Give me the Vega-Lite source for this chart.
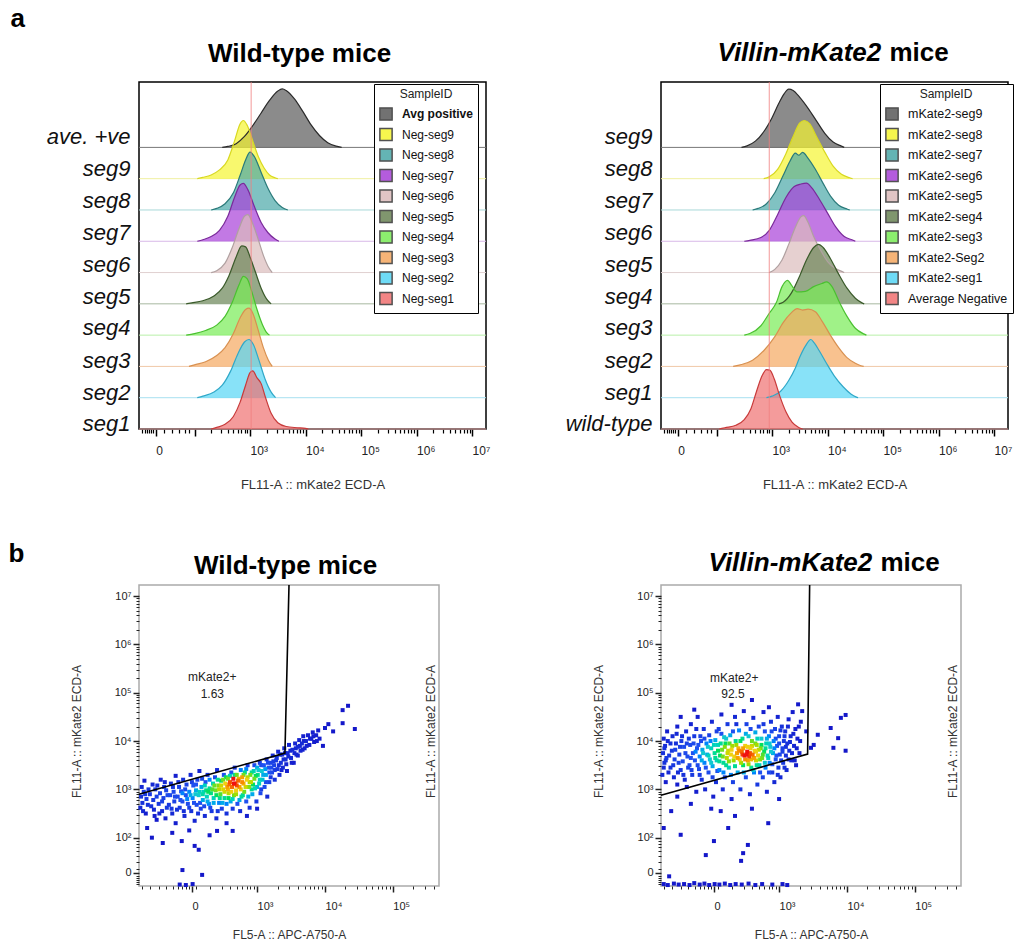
{
"$schema": "https://vega.github.io/schema/vega-lite/v6.json",
"background": "#ffffff",
"padding": {"left": 7, "top": 4, "right": 0, "bottom": 0},
"config": {"font": "Liberation Sans", "axis": {"labelFont": "Liberation Sans", "titleFont": "Liberation Sans"}, "legend": {"labelFont": "Liberation Sans", "titleFont": "Liberation Sans"}},
"datasets": {
"wtO": [{"s":"Avg positive","i":9},{"s":"Neg-seg9","i":8},{"s":"Neg-seg8","i":7},{"s":"Neg-seg7","i":6},{"s":"Neg-seg6","i":5},{"s":"Neg-seg5","i":4},{"s":"Neg-seg4","i":3},{"s":"Neg-seg3","i":2},{"s":"Neg-seg2","i":1},{"s":"Neg-seg1","i":0}],
"vO": [{"s":"mKate2-seg9","i":9},{"s":"mKate2-seg8","i":8},{"s":"mKate2-seg7","i":7},{"s":"mKate2-seg6","i":6},{"s":"mKate2-seg5","i":5},{"s":"mKate2-seg4","i":4},{"s":"mKate2-seg3","i":3},{"s":"mKate2-Seg2","i":2},{"s":"mKate2-seg1","i":1},{"s":"Average Negative","i":0}],
"wtR": [
{"s":"Avg positive","x":2.5,"d":0},{"s":"Avg positive","x":2.6,"d":0.03},{"s":"Avg positive","x":2.75,"d":0.12},{"s":"Avg positive","x":2.9,"d":0.35},{"s":"Avg positive","x":3.05,"d":0.7},{"s":"Avg positive","x":3.2,"d":1.1},{"s":"Avg positive","x":3.35,"d":1.5},{"s":"Avg positive","x":3.5,"d":1.8},{"s":"Avg positive","x":3.58,"d":1.87},{"s":"Avg positive","x":3.65,"d":1.82},{"s":"Avg positive","x":3.8,"d":1.55},{"s":"Avg positive","x":3.95,"d":1.15},{"s":"Avg positive","x":4.1,"d":0.72},{"s":"Avg positive","x":4.25,"d":0.38},{"s":"Avg positive","x":4.4,"d":0.15},{"s":"Avg positive","x":4.55,"d":0.04},{"s":"Avg positive","x":4.65,"d":0},
{"s":"Neg-seg9","x":2.05,"d":0},{"s":"Neg-seg9","x":2.15,"d":0.04},{"s":"Neg-seg9","x":2.3,"d":0.12},{"s":"Neg-seg9","x":2.45,"d":0.28},{"s":"Neg-seg9","x":2.6,"d":0.6},{"s":"Neg-seg9","x":2.72,"d":1.2},{"s":"Neg-seg9","x":2.82,"d":1.75},{"s":"Neg-seg9","x":2.88,"d":1.86},{"s":"Neg-seg9","x":2.95,"d":1.7},{"s":"Neg-seg9","x":3.05,"d":1.2},{"s":"Neg-seg9","x":3.15,"d":0.7},{"s":"Neg-seg9","x":3.25,"d":0.35},{"s":"Neg-seg9","x":3.35,"d":0.12},{"s":"Neg-seg9","x":3.45,"d":0.03},{"s":"Neg-seg9","x":3.5,"d":0},
{"s":"Neg-seg8","x":2.3,"d":0},{"s":"Neg-seg8","x":2.4,"d":0.05},{"s":"Neg-seg8","x":2.55,"d":0.2},{"s":"Neg-seg8","x":2.7,"d":0.55},{"s":"Neg-seg8","x":2.82,"d":1.1},{"s":"Neg-seg8","x":2.92,"d":1.6},{"s":"Neg-seg8","x":3.0,"d":1.85},{"s":"Neg-seg8","x":3.08,"d":1.7},{"s":"Neg-seg8","x":3.2,"d":1.2},{"s":"Neg-seg8","x":3.32,"d":0.7},{"s":"Neg-seg8","x":3.45,"d":0.3},{"s":"Neg-seg8","x":3.58,"d":0.08},{"s":"Neg-seg8","x":3.68,"d":0},
{"s":"Neg-seg7","x":2.05,"d":0},{"s":"Neg-seg7","x":2.15,"d":0.05},{"s":"Neg-seg7","x":2.3,"d":0.15},{"s":"Neg-seg7","x":2.45,"d":0.35},{"s":"Neg-seg7","x":2.6,"d":0.8},{"s":"Neg-seg7","x":2.72,"d":1.4},{"s":"Neg-seg7","x":2.82,"d":1.8},{"s":"Neg-seg7","x":2.88,"d":1.85},{"s":"Neg-seg7","x":2.96,"d":1.65},{"s":"Neg-seg7","x":3.08,"d":1.1},{"s":"Neg-seg7","x":3.2,"d":0.6},{"s":"Neg-seg7","x":3.32,"d":0.28},{"s":"Neg-seg7","x":3.45,"d":0.07},{"s":"Neg-seg7","x":3.52,"d":0},
{"s":"Neg-seg6","x":2.3,"d":0},{"s":"Neg-seg6","x":2.4,"d":0.06},{"s":"Neg-seg6","x":2.55,"d":0.3},{"s":"Neg-seg6","x":2.68,"d":0.8},{"s":"Neg-seg6","x":2.8,"d":1.4},{"s":"Neg-seg6","x":2.9,"d":1.8},{"s":"Neg-seg6","x":2.96,"d":1.85},{"s":"Neg-seg6","x":3.04,"d":1.6},{"s":"Neg-seg6","x":3.14,"d":1.1},{"s":"Neg-seg6","x":3.24,"d":0.55},{"s":"Neg-seg6","x":3.33,"d":0.18},{"s":"Neg-seg6","x":3.4,"d":0},
{"s":"Neg-seg5","x":1.85,"d":0},{"s":"Neg-seg5","x":1.95,"d":0.03},{"s":"Neg-seg5","x":2.15,"d":0.1},{"s":"Neg-seg5","x":2.35,"d":0.25},{"s":"Neg-seg5","x":2.5,"d":0.5},{"s":"Neg-seg5","x":2.62,"d":0.9},{"s":"Neg-seg5","x":2.75,"d":1.5},{"s":"Neg-seg5","x":2.85,"d":1.85},{"s":"Neg-seg5","x":2.92,"d":1.82},{"s":"Neg-seg5","x":3.0,"d":1.5},{"s":"Neg-seg5","x":3.1,"d":1.0},{"s":"Neg-seg5","x":3.2,"d":0.5},{"s":"Neg-seg5","x":3.3,"d":0.15},{"s":"Neg-seg5","x":3.38,"d":0},
{"s":"Neg-seg4","x":1.85,"d":0},{"s":"Neg-seg4","x":2.0,"d":0.05},{"s":"Neg-seg4","x":2.2,"d":0.15},{"s":"Neg-seg4","x":2.4,"d":0.32},{"s":"Neg-seg4","x":2.55,"d":0.6},{"s":"Neg-seg4","x":2.68,"d":1.05},{"s":"Neg-seg4","x":2.8,"d":1.6},{"s":"Neg-seg4","x":2.88,"d":1.88},{"s":"Neg-seg4","x":2.95,"d":1.8},{"s":"Neg-seg4","x":3.03,"d":1.4},{"s":"Neg-seg4","x":3.12,"d":0.85},{"s":"Neg-seg4","x":3.22,"d":0.35},{"s":"Neg-seg4","x":3.3,"d":0.08},{"s":"Neg-seg4","x":3.35,"d":0},
{"s":"Neg-seg3","x":1.9,"d":0},{"s":"Neg-seg3","x":2.0,"d":0.05},{"s":"Neg-seg3","x":2.2,"d":0.15},{"s":"Neg-seg3","x":2.4,"d":0.35},{"s":"Neg-seg3","x":2.55,"d":0.6},{"s":"Neg-seg3","x":2.7,"d":1.05},{"s":"Neg-seg3","x":2.82,"d":1.55},{"s":"Neg-seg3","x":2.92,"d":1.82},{"s":"Neg-seg3","x":2.98,"d":1.86},{"s":"Neg-seg3","x":3.05,"d":1.7},{"s":"Neg-seg3","x":3.14,"d":1.2},{"s":"Neg-seg3","x":3.24,"d":0.6},{"s":"Neg-seg3","x":3.33,"d":0.2},{"s":"Neg-seg3","x":3.4,"d":0},
{"s":"Neg-seg2","x":2.05,"d":0},{"s":"Neg-seg2","x":2.15,"d":0.05},{"s":"Neg-seg2","x":2.35,"d":0.18},{"s":"Neg-seg2","x":2.5,"d":0.4},{"s":"Neg-seg2","x":2.65,"d":0.85},{"s":"Neg-seg2","x":2.78,"d":1.4},{"s":"Neg-seg2","x":2.9,"d":1.78},{"s":"Neg-seg2","x":2.98,"d":1.86},{"s":"Neg-seg2","x":3.06,"d":1.7},{"s":"Neg-seg2","x":3.16,"d":1.2},{"s":"Neg-seg2","x":3.27,"d":0.6},{"s":"Neg-seg2","x":3.38,"d":0.18},{"s":"Neg-seg2","x":3.46,"d":0},
{"s":"Neg-seg1","x":2.3,"d":0},{"s":"Neg-seg1","x":2.4,"d":0.05},{"s":"Neg-seg1","x":2.55,"d":0.15},{"s":"Neg-seg1","x":2.7,"d":0.4},{"s":"Neg-seg1","x":2.82,"d":0.85},{"s":"Neg-seg1","x":2.92,"d":1.4},{"s":"Neg-seg1","x":3.0,"d":1.8},{"s":"Neg-seg1","x":3.05,"d":1.86},{"s":"Neg-seg1","x":3.12,"d":1.65},{"s":"Neg-seg1","x":3.2,"d":1.45},{"s":"Neg-seg1","x":3.28,"d":1.0},{"s":"Neg-seg1","x":3.38,"d":0.5},{"s":"Neg-seg1","x":3.5,"d":0.2},{"s":"Neg-seg1","x":3.65,"d":0.08},{"s":"Neg-seg1","x":3.85,"d":0.04},{"s":"Neg-seg1","x":4.0,"d":0.02},{"s":"Neg-seg1","x":4.05,"d":0}
],
"vR": [
{"s":"mKate2-seg9","x":2.45,"d":0},{"s":"mKate2-seg9","x":2.55,"d":0.05},{"s":"mKate2-seg9","x":2.7,"d":0.2},{"s":"mKate2-seg9","x":2.85,"d":0.5},{"s":"mKate2-seg9","x":3.0,"d":0.95},{"s":"mKate2-seg9","x":3.12,"d":1.4},{"s":"mKate2-seg9","x":3.22,"d":1.72},{"s":"mKate2-seg9","x":3.3,"d":1.86},{"s":"mKate2-seg9","x":3.38,"d":1.82},{"s":"mKate2-seg9","x":3.5,"d":1.6},{"s":"mKate2-seg9","x":3.65,"d":1.25},{"s":"mKate2-seg9","x":3.8,"d":0.85},{"s":"mKate2-seg9","x":3.95,"d":0.45},{"s":"mKate2-seg9","x":4.1,"d":0.17},{"s":"mKate2-seg9","x":4.25,"d":0.04},{"s":"mKate2-seg9","x":4.3,"d":0},
{"s":"mKate2-seg8","x":2.85,"d":0},{"s":"mKate2-seg8","x":2.95,"d":0.06},{"s":"mKate2-seg8","x":3.1,"d":0.3},{"s":"mKate2-seg8","x":3.25,"d":0.8},{"s":"mKate2-seg8","x":3.38,"d":1.35},{"s":"mKate2-seg8","x":3.5,"d":1.78},{"s":"mKate2-seg8","x":3.58,"d":1.86},{"s":"mKate2-seg8","x":3.68,"d":1.75},{"s":"mKate2-seg8","x":3.8,"d":1.35},{"s":"mKate2-seg8","x":3.95,"d":0.85},{"s":"mKate2-seg8","x":4.1,"d":0.4},{"s":"mKate2-seg8","x":4.25,"d":0.14},{"s":"mKate2-seg8","x":4.4,"d":0.03},{"s":"mKate2-seg8","x":4.45,"d":0},
{"s":"mKate2-seg7","x":2.65,"d":0},{"s":"mKate2-seg7","x":2.75,"d":0.05},{"s":"mKate2-seg7","x":2.9,"d":0.2},{"s":"mKate2-seg7","x":3.05,"d":0.55},{"s":"mKate2-seg7","x":3.2,"d":1.1},{"s":"mKate2-seg7","x":3.32,"d":1.55},{"s":"mKate2-seg7","x":3.42,"d":1.82},{"s":"mKate2-seg7","x":3.48,"d":1.75},{"s":"mKate2-seg7","x":3.55,"d":1.84},{"s":"mKate2-seg7","x":3.65,"d":1.65},{"s":"mKate2-seg7","x":3.78,"d":1.3},{"s":"mKate2-seg7","x":3.92,"d":0.85},{"s":"mKate2-seg7","x":4.05,"d":0.45},{"s":"mKate2-seg7","x":4.2,"d":0.15},{"s":"mKate2-seg7","x":4.35,"d":0.03},{"s":"mKate2-seg7","x":4.4,"d":0},
{"s":"mKate2-seg6","x":2.5,"d":0},{"s":"mKate2-seg6","x":2.6,"d":0.03},{"s":"mKate2-seg6","x":2.8,"d":0.12},{"s":"mKate2-seg6","x":2.95,"d":0.35},{"s":"mKate2-seg6","x":3.1,"d":0.85},{"s":"mKate2-seg6","x":3.25,"d":1.4},{"s":"mKate2-seg6","x":3.4,"d":1.75},{"s":"mKate2-seg6","x":3.52,"d":1.83},{"s":"mKate2-seg6","x":3.62,"d":1.86},{"s":"mKate2-seg6","x":3.72,"d":1.7},{"s":"mKate2-seg6","x":3.85,"d":1.35},{"s":"mKate2-seg6","x":4.0,"d":0.9},{"s":"mKate2-seg6","x":4.15,"d":0.45},{"s":"mKate2-seg6","x":4.3,"d":0.15},{"s":"mKate2-seg6","x":4.45,"d":0.04},{"s":"mKate2-seg6","x":4.5,"d":0},
{"s":"mKate2-seg5","x":2.95,"d":0},{"s":"mKate2-seg5","x":3.05,"d":0.1},{"s":"mKate2-seg5","x":3.18,"d":0.4},{"s":"mKate2-seg5","x":3.3,"d":0.9},{"s":"mKate2-seg5","x":3.42,"d":1.45},{"s":"mKate2-seg5","x":3.52,"d":1.78},{"s":"mKate2-seg5","x":3.57,"d":1.82},{"s":"mKate2-seg5","x":3.65,"d":1.6},{"s":"mKate2-seg5","x":3.75,"d":1.15},{"s":"mKate2-seg5","x":3.88,"d":0.7},{"s":"mKate2-seg5","x":4.0,"d":0.35},{"s":"mKate2-seg5","x":4.15,"d":0.12},{"s":"mKate2-seg5","x":4.28,"d":0.02},{"s":"mKate2-seg5","x":4.3,"d":0},
{"s":"mKate2-seg4","x":3.12,"d":0},{"s":"mKate2-seg4","x":3.2,"d":0.05},{"s":"mKate2-seg4","x":3.35,"d":0.35},{"s":"mKate2-seg4","x":3.5,"d":0.9},{"s":"mKate2-seg4","x":3.62,"d":1.4},{"s":"mKate2-seg4","x":3.75,"d":1.8},{"s":"mKate2-seg4","x":3.84,"d":1.9},{"s":"mKate2-seg4","x":3.92,"d":1.8},{"s":"mKate2-seg4","x":4.05,"d":1.45},{"s":"mKate2-seg4","x":4.2,"d":0.95},{"s":"mKate2-seg4","x":4.35,"d":0.5},{"s":"mKate2-seg4","x":4.5,"d":0.18},{"s":"mKate2-seg4","x":4.62,"d":0.03},{"s":"mKate2-seg4","x":4.66,"d":0},
{"s":"mKate2-seg3","x":2.5,"d":0},{"s":"mKate2-seg3","x":2.6,"d":0.05},{"s":"mKate2-seg3","x":2.8,"d":0.3},{"s":"mKate2-seg3","x":2.95,"d":0.7},{"s":"mKate2-seg3","x":3.08,"d":1.05},{"s":"mKate2-seg3","x":3.18,"d":1.55},{"s":"mKate2-seg3","x":3.28,"d":1.75},{"s":"mKate2-seg3","x":3.35,"d":1.6},{"s":"mKate2-seg3","x":3.45,"d":1.38},{"s":"mKate2-seg3","x":3.6,"d":1.4},{"s":"mKate2-seg3","x":3.75,"d":1.55},{"s":"mKate2-seg3","x":3.9,"d":1.65},{"s":"mKate2-seg3","x":3.98,"d":1.7},{"s":"mKate2-seg3","x":4.08,"d":1.55},{"s":"mKate2-seg3","x":4.2,"d":1.1},{"s":"mKate2-seg3","x":4.35,"d":0.6},{"s":"mKate2-seg3","x":4.5,"d":0.22},{"s":"mKate2-seg3","x":4.65,"d":0.04},{"s":"mKate2-seg3","x":4.7,"d":0},
{"s":"mKate2-Seg2","x":2.3,"d":0},{"s":"mKate2-Seg2","x":2.45,"d":0.06},{"s":"mKate2-Seg2","x":2.65,"d":0.2},{"s":"mKate2-Seg2","x":2.85,"d":0.5},{"s":"mKate2-Seg2","x":3.05,"d":0.95},{"s":"mKate2-Seg2","x":3.2,"d":1.4},{"s":"mKate2-Seg2","x":3.35,"d":1.72},{"s":"mKate2-Seg2","x":3.45,"d":1.85},{"s":"mKate2-Seg2","x":3.55,"d":1.8},{"s":"mKate2-Seg2","x":3.65,"d":1.83},{"s":"mKate2-Seg2","x":3.78,"d":1.75},{"s":"mKate2-Seg2","x":3.9,"d":1.45},{"s":"mKate2-Seg2","x":4.05,"d":1.0},{"s":"mKate2-Seg2","x":4.2,"d":0.6},{"s":"mKate2-Seg2","x":4.35,"d":0.28},{"s":"mKate2-Seg2","x":4.5,"d":0.1},{"s":"mKate2-Seg2","x":4.6,"d":0.02},{"s":"mKate2-Seg2","x":4.65,"d":0},
{"s":"mKate2-seg1","x":2.9,"d":0},{"s":"mKate2-seg1","x":3.0,"d":0.05},{"s":"mKate2-seg1","x":3.15,"d":0.2},{"s":"mKate2-seg1","x":3.3,"d":0.55},{"s":"mKate2-seg1","x":3.42,"d":0.95},{"s":"mKate2-seg1","x":3.5,"d":1.3},{"s":"mKate2-seg1","x":3.6,"d":1.65},{"s":"mKate2-seg1","x":3.7,"d":1.86},{"s":"mKate2-seg1","x":3.76,"d":1.75},{"s":"mKate2-seg1","x":3.85,"d":1.5},{"s":"mKate2-seg1","x":3.98,"d":1.1},{"s":"mKate2-seg1","x":4.12,"d":0.7},{"s":"mKate2-seg1","x":4.28,"d":0.35},{"s":"mKate2-seg1","x":4.42,"d":0.12},{"s":"mKate2-seg1","x":4.52,"d":0.02},{"s":"mKate2-seg1","x":4.55,"d":0},
{"s":"Average Negative","x":2.05,"d":0},{"s":"Average Negative","x":2.15,"d":0.04},{"s":"Average Negative","x":2.35,"d":0.12},{"s":"Average Negative","x":2.5,"d":0.3},{"s":"Average Negative","x":2.62,"d":0.65},{"s":"Average Negative","x":2.72,"d":1.2},{"s":"Average Negative","x":2.82,"d":1.7},{"s":"Average Negative","x":2.9,"d":1.9},{"s":"Average Negative","x":2.96,"d":1.88},{"s":"Average Negative","x":3.04,"d":1.6},{"s":"Average Negative","x":3.14,"d":1.05},{"s":"Average Negative","x":3.25,"d":0.55},{"s":"Average Negative","x":3.36,"d":0.22},{"s":"Average Negative","x":3.48,"d":0.05},{"s":"Average Negative","x":3.55,"d":0}
],
"wtG": [{"x":1.26,"y":2.9,"o":1},{"x":3.41,"y":3.75,"o":2},{"x":3.47,"y":7.23,"o":3}],
"vG": [{"x":1.26,"y":2.88,"o":1},{"x":3.42,"y":3.73,"o":2},{"x":3.45,"y":7.23,"o":3}],
"wtP": [
{"x":1.28,"y":2.62,"d":0.1},{"x":1.29,"y":2.85,"d":0.15},{"x":1.3,"y":3.05,"d":0.1},{"x":1.31,"y":2.72,"d":0.15},{"x":1.33,"y":2.95,"d":0.2},{"x":1.34,"y":3.18,"d":0.05},{"x":1.36,"y":2.5,"d":0.05},{"x":1.37,"y":2.8,"d":0.2},
{"x":1.42,"y":2.9,"d":0.2},{"x":1.44,"y":2.65,"d":0.15},{"x":1.46,"y":3.1,"d":0.1},{"x":1.47,"y":2.78,"d":0.2},{"x":1.49,"y":2.45,"d":0.05},{"x":1.5,"y":3.0,"d":0.2},
{"x":1.55,"y":2.7,"d":0.2},{"x":1.57,"y":2.92,"d":0.25},{"x":1.58,"y":3.2,"d":0.08},{"x":1.6,"y":2.55,"d":0.1},{"x":1.62,"y":2.82,"d":0.25},{"x":1.63,"y":3.05,"d":0.2},{"x":1.65,"y":2.4,"d":0.05},{"x":1.66,"y":2.98,"d":0.25},
{"x":1.7,"y":2.68,"d":0.2},{"x":1.72,"y":2.88,"d":0.3},{"x":1.73,"y":3.12,"d":0.15},{"x":1.75,"y":2.5,"d":0.1},{"x":1.77,"y":2.95,"d":0.3},{"x":1.78,"y":2.75,"d":0.25},{"x":1.8,"y":3.28,"d":0.05},{"x":1.8,"y":2.3,"d":0.05},
{"x":1.83,"y":2.85,"d":0.3},{"x":1.85,"y":3.05,"d":0.25},{"x":1.86,"y":2.62,"d":0.2},{"x":1.88,"y":2.96,"d":0.35},{"x":1.9,"y":2.75,"d":0.3},{"x":1.91,"y":3.2,"d":0.15},{"x":1.93,"y":2.45,"d":0.1},{"x":1.95,"y":2.88,"d":0.35},{"x":1.96,"y":3.1,"d":0.25},
{"x":1.98,"y":2.7,"d":0.3},{"x":2.0,"y":2.95,"d":0.4},{"x":2.02,"y":3.3,"d":0.1},{"x":2.03,"y":2.55,"d":0.15},{"x":2.05,"y":2.82,"d":0.4},{"x":2.06,"y":3.08,"d":0.35},{"x":2.08,"y":2.35,"d":0.08},{"x":2.1,"y":2.98,"d":0.45},{"x":2.11,"y":2.68,"d":0.3},{"x":2.12,"y":3.2,"d":0.25},
{"x":2.14,"y":2.88,"d":0.5},{"x":2.15,"y":3.38,"d":0.08},{"x":2.17,"y":2.6,"d":0.25},{"x":2.18,"y":3.05,"d":0.45},{"x":2.2,"y":2.78,"d":0.45},{"x":2.21,"y":2.95,"d":0.55},{"x":2.23,"y":2.45,"d":0.12},{"x":2.24,"y":3.15,"d":0.35},{"x":2.26,"y":2.85,"d":0.55},{"x":2.27,"y":3.3,"d":0.15},
{"x":2.29,"y":2.7,"d":0.4},{"x":2.3,"y":3.02,"d":0.6},{"x":2.32,"y":2.92,"d":0.62},{"x":2.33,"y":2.55,"d":0.2},{"x":2.35,"y":3.12,"d":0.55},{"x":2.36,"y":2.82,"d":0.55},{"x":2.38,"y":3.25,"d":0.3},{"x":2.39,"y":2.98,"d":0.7},{"x":2.4,"y":2.4,"d":0.1},{"x":2.41,"y":3.4,"d":0.12},
{"x":2.43,"y":3.08,"d":0.72},{"x":2.44,"y":2.72,"d":0.4},{"x":2.46,"y":2.9,"d":0.68},{"x":2.47,"y":3.18,"d":0.65},{"x":2.48,"y":2.6,"d":0.25},{"x":2.5,"y":3.0,"d":0.82},{"x":2.51,"y":3.3,"d":0.35},{"x":2.52,"y":2.82,"d":0.6},{"x":2.53,"y":3.12,"d":0.85},{"x":2.55,"y":2.5,"d":0.15},
{"x":2.56,"y":3.05,"d":0.9},{"x":2.57,"y":3.22,"d":0.7},{"x":2.58,"y":2.92,"d":0.78},{"x":2.6,"y":3.15,"d":0.97},{"x":2.61,"y":2.75,"d":0.45},{"x":2.62,"y":3.35,"d":0.35},{"x":2.63,"y":3.05,"d":0.95},{"x":2.64,"y":2.6,"d":0.2},{"x":2.65,"y":3.22,"d":1.0},{"x":2.66,"y":2.88,"d":0.7},{"x":2.67,"y":3.45,"d":0.15},
{"x":2.68,"y":3.12,"d":0.98},{"x":2.69,"y":2.98,"d":0.85},{"x":2.7,"y":3.3,"d":0.7},{"x":2.71,"y":2.7,"d":0.35},{"x":2.72,"y":3.18,"d":0.95},{"x":2.74,"y":3.05,"d":0.9},{"x":2.75,"y":2.55,"d":0.12},{"x":2.76,"y":3.4,"d":0.4},{"x":2.77,"y":2.85,"d":0.6},{"x":2.78,"y":3.25,"d":0.9},
{"x":2.8,"y":3.12,"d":0.88},{"x":2.81,"y":2.95,"d":0.7},{"x":2.82,"y":3.35,"d":0.6},{"x":2.84,"y":2.75,"d":0.35},{"x":2.85,"y":3.2,"d":0.85},{"x":2.86,"y":3.5,"d":0.2},{"x":2.88,"y":3.05,"d":0.72},{"x":2.89,"y":2.62,"d":0.15},{"x":2.9,"y":3.3,"d":0.7},{"x":2.91,"y":3.15,"d":0.78},
{"x":2.93,"y":2.9,"d":0.45},{"x":2.95,"y":3.38,"d":0.55},{"x":2.96,"y":3.22,"d":0.7},{"x":2.97,"y":3.02,"d":0.55},{"x":2.99,"y":2.75,"d":0.2},{"x":3.0,"y":3.45,"d":0.45},{"x":3.01,"y":3.3,"d":0.6},{"x":3.03,"y":3.12,"d":0.55},{"x":3.04,"y":3.55,"d":0.2},{"x":3.05,"y":2.92,"d":0.3},
{"x":3.07,"y":3.38,"d":0.5},{"x":3.08,"y":3.2,"d":0.48},{"x":3.1,"y":3.5,"d":0.35},{"x":3.11,"y":3.05,"d":0.3},{"x":3.13,"y":3.3,"d":0.45},{"x":3.14,"y":3.62,"d":0.15},{"x":3.15,"y":2.85,"d":0.1},{"x":3.17,"y":3.45,"d":0.35},{"x":3.18,"y":3.15,"d":0.25},{"x":3.2,"y":3.55,"d":0.25},
{"x":3.22,"y":3.35,"d":0.3},{"x":3.23,"y":3.7,"d":0.12},{"x":3.25,"y":3.5,"d":0.25},{"x":3.26,"y":3.2,"d":0.15},{"x":3.28,"y":3.6,"d":0.2},{"x":3.3,"y":3.42,"d":0.2},{"x":3.31,"y":3.78,"d":0.08},{"x":3.33,"y":3.3,"d":0.1},
{"x":3.35,"y":3.55,"d":0.15},{"x":3.37,"y":3.72,"d":0.12},{"x":3.38,"y":3.45,"d":0.1},{"x":3.4,"y":3.85,"d":0.1},{"x":3.42,"y":3.62,"d":0.12},{"x":3.44,"y":3.38,"d":0.05},{"x":3.45,"y":3.75,"d":0.1},{"x":3.47,"y":3.92,"d":0.08},
{"x":3.5,"y":3.65,"d":0.1},{"x":3.52,"y":3.82,"d":0.1},{"x":3.54,"y":3.55,"d":0.05},{"x":3.56,"y":3.95,"d":0.08},{"x":3.58,"y":3.72,"d":0.08},{"x":3.6,"y":3.88,"d":0.1},{"x":3.62,"y":4.02,"d":0.06},
{"x":3.64,"y":3.8,"d":0.08},{"x":3.66,"y":3.95,"d":0.1},{"x":3.68,"y":4.1,"d":0.05},{"x":3.7,"y":3.85,"d":0.06},{"x":3.72,"y":4.0,"d":0.08},{"x":3.75,"y":4.12,"d":0.06},{"x":3.77,"y":3.92,"d":0.05},
{"x":3.8,"y":4.05,"d":0.06},{"x":3.82,"y":4.18,"d":0.05},{"x":3.84,"y":3.98,"d":0.04},{"x":3.87,"y":4.12,"d":0.05},{"x":3.9,"y":4.22,"d":0.04},{"x":3.92,"y":4.05,"d":0.04},
{"x":3.97,"y":3.9,"d":0.02},{"x":4.0,"y":4.27,"d":0.03},{"x":4.05,"y":4.35,"d":0.02},{"x":4.26,"y":4.64,"d":0.01},{"x":4.34,"y":4.73,"d":0.01},{"x":4.44,"y":4.25,"d":0.01},{"x":4.26,"y":4.37,"d":0.01},{"x":4.12,"y":4.2,"d":0.02},
{"x":1.38,"y":2.2,"d":0.02},{"x":1.52,"y":2.37,"d":0.03},{"x":1.61,"y":1.89,"d":0.01},{"x":1.89,"y":1.93,"d":0.01},{"x":2.08,"y":1.83,"d":0.01},{"x":2.14,"y":1.75,"d":0.01},{"x":1.9,"y":1.33,"d":0.01},{"x":2.19,"y":1.23,"d":0.01},{"x":2.41,"y":2.14,"d":0.02},{"x":2.64,"y":2.14,"d":0.02},{"x":1.75,"y":2.1,"d":0.02},{"x":2.3,"y":2.05,"d":0.02},{"x":2.55,"y":2.3,"d":0.05},{"x":2.0,"y":2.15,"d":0.03},{"x":2.85,"y":2.45,"d":0.05},{"x":3.0,"y":2.6,"d":0.05},{"x":1.45,"y":2.0,"d":0.02},
{"x":1.86,"y":1.03,"d":0.02},{"x":1.95,"y":1.02,"d":0.02},{"x":2.05,"y":1.04,"d":0.02},
{"x":1.32,"y":2.55,"d":0.1},{"x":1.35,"y":2.9,"d":0.2},{"x":1.39,"y":2.68,"d":0.15},{"x":1.4,"y":3.0,"d":0.15},
{"x":1.48,"y":2.58,"d":0.1},{"x":1.52,"y":2.85,"d":0.25},{"x":1.53,"y":3.08,"d":0.12},{"x":1.56,"y":2.5,"d":0.08},
{"x":1.6,"y":2.75,"d":0.25},{"x":1.64,"y":3.15,"d":0.1},{"x":1.67,"y":2.62,"d":0.2},{"x":1.68,"y":2.88,"d":0.3},
{"x":1.74,"y":2.6,"d":0.2},{"x":1.76,"y":3.05,"d":0.2},{"x":1.79,"y":2.85,"d":0.3},{"x":1.82,"y":2.58,"d":0.15},{"x":1.84,"y":3.15,"d":0.15},
{"x":1.87,"y":2.78,"d":0.35},{"x":1.9,"y":2.92,"d":0.4},{"x":1.92,"y":2.55,"d":0.15},{"x":1.94,"y":3.0,"d":0.3},{"x":1.97,"y":2.8,"d":0.4},
{"x":2.0,"y":2.62,"d":0.25},{"x":2.02,"y":2.88,"d":0.45},{"x":2.04,"y":3.15,"d":0.25},{"x":2.07,"y":2.72,"d":0.35},{"x":2.09,"y":2.9,"d":0.5},{"x":2.1,"y":3.1,"d":0.35},{"x":2.13,"y":2.5,"d":0.15},
{"x":2.15,"y":2.95,"d":0.55},{"x":2.16,"y":2.72,"d":0.35},{"x":2.19,"y":3.22,"d":0.3},{"x":2.2,"y":2.9,"d":0.58},{"x":2.22,"y":2.65,"d":0.3},{"x":2.23,"y":3.08,"d":0.55},{"x":2.25,"y":2.98,"d":0.62},{"x":2.27,"y":2.75,"d":0.45},
{"x":2.28,"y":2.95,"d":0.65},{"x":2.3,"y":3.2,"d":0.4},{"x":2.31,"y":2.62,"d":0.3},{"x":2.34,"y":3.0,"d":0.68},{"x":2.36,"y":2.72,"d":0.45},{"x":2.37,"y":3.08,"d":0.7},{"x":2.4,"y":2.88,"d":0.65},{"x":2.42,"y":3.2,"d":0.6},{"x":2.42,"y":2.55,"d":0.2},
{"x":2.44,"y":3.0,"d":0.78},{"x":2.45,"y":2.82,"d":0.6},{"x":2.47,"y":3.08,"d":0.8},{"x":2.49,"y":2.72,"d":0.45},{"x":2.5,"y":3.2,"d":0.7},{"x":2.52,"y":2.95,"d":0.8},{"x":2.54,"y":3.25,"d":0.65},{"x":2.55,"y":2.7,"d":0.4},{"x":2.57,"y":3.0,"d":0.88},{"x":2.58,"y":2.82,"d":0.65},
{"x":2.59,"y":3.1,"d":0.95},{"x":2.6,"y":3.28,"d":0.55},{"x":2.62,"y":2.95,"d":0.85},{"x":2.64,"y":2.8,"d":0.55},{"x":2.66,"y":3.12,"d":1.0},{"x":2.67,"y":3.3,"d":0.6},{"x":2.69,"y":2.9,"d":0.75},{"x":2.7,"y":3.08,"d":0.97},{"x":2.73,"y":3.22,"d":0.88},{"x":2.74,"y":2.78,"d":0.45},{"x":2.76,"y":3.0,"d":0.85},
{"x":2.78,"y":3.15,"d":0.92},{"x":2.79,"y":2.88,"d":0.6},{"x":2.8,"y":3.3,"d":0.7},{"x":2.83,"y":3.05,"d":0.8},{"x":2.84,"y":3.42,"d":0.4},{"x":2.86,"y":3.25,"d":0.78},{"x":2.87,"y":2.85,"d":0.45},{"x":2.89,"y":3.15,"d":0.75},{"x":2.92,"y":3.35,"d":0.6},{"x":2.92,"y":3.0,"d":0.6},
{"x":2.94,"y":3.1,"d":0.65},{"x":2.96,"y":3.5,"d":0.3},{"x":2.98,"y":3.28,"d":0.65},{"x":3.0,"y":3.05,"d":0.45},{"x":3.02,"y":3.4,"d":0.5},{"x":3.04,"y":3.2,"d":0.55},{"x":3.06,"y":3.0,"d":0.25},{"x":3.06,"y":3.5,"d":0.3},
{"x":3.09,"y":3.3,"d":0.45},{"x":3.12,"y":3.42,"d":0.42},{"x":3.13,"y":3.15,"d":0.3},{"x":3.16,"y":3.55,"d":0.3},{"x":3.18,"y":3.35,"d":0.35},{"x":3.2,"y":3.25,"d":0.2},{"x":3.21,"y":3.45,"d":0.3},
{"x":3.24,"y":3.58,"d":0.22},{"x":3.26,"y":3.4,"d":0.2},{"x":3.29,"y":3.65,"d":0.18},{"x":3.32,"y":3.5,"d":0.15},{"x":3.34,"y":3.72,"d":0.12},{"x":3.36,"y":3.4,"d":0.08},
{"x":3.39,"y":3.62,"d":0.12},{"x":3.41,"y":3.75,"d":0.1},{"x":3.43,"y":3.52,"d":0.08},{"x":3.46,"y":3.68,"d":0.1},{"x":3.49,"y":3.8,"d":0.08},{"x":3.51,"y":3.55,"d":0.05},
{"x":3.55,"y":3.75,"d":0.08},{"x":3.57,"y":3.85,"d":0.08},{"x":3.6,"y":3.7,"d":0.06},{"x":3.63,"y":3.9,"d":0.08},{"x":3.67,"y":3.82,"d":0.06},{"x":3.69,"y":4.0,"d":0.06},{"x":3.73,"y":3.9,"d":0.06},{"x":3.78,"y":4.05,"d":0.05},{"x":3.83,"y":4.1,"d":0.05},{"x":3.88,"y":4.0,"d":0.04}
],
"vP": [
{"x":1.28,"y":3.3,"d":0.1},{"x":1.29,"y":3.75,"d":0.15},{"x":1.3,"y":4.05,"d":0.08},{"x":1.31,"y":3.55,"d":0.15},{"x":1.32,"y":3.9,"d":0.12},{"x":1.33,"y":3.15,"d":0.05},{"x":1.34,"y":3.65,"d":0.2},{"x":1.35,"y":4.2,"d":0.05},
{"x":1.4,"y":3.45,"d":0.15},{"x":1.42,"y":3.8,"d":0.2},{"x":1.43,"y":4.1,"d":0.1},{"x":1.45,"y":3.25,"d":0.1},{"x":1.46,"y":3.62,"d":0.25},{"x":1.48,"y":3.95,"d":0.15},{"x":1.5,"y":3.1,"d":0.05},{"x":1.5,"y":4.3,"d":0.05},
{"x":1.53,"y":3.72,"d":0.25},{"x":1.55,"y":3.4,"d":0.2},{"x":1.56,"y":4.0,"d":0.2},{"x":1.58,"y":3.58,"d":0.3},{"x":1.6,"y":3.88,"d":0.3},{"x":1.61,"y":3.2,"d":0.1},{"x":1.63,"y":4.2,"d":0.1},{"x":1.64,"y":3.05,"d":0.05},{"x":1.65,"y":3.68,"d":0.3},
{"x":1.68,"y":3.5,"d":0.3},{"x":1.69,"y":3.92,"d":0.3},{"x":1.7,"y":4.35,"d":0.08},{"x":1.72,"y":3.3,"d":0.2},{"x":1.73,"y":3.75,"d":0.35},{"x":1.75,"y":4.1,"d":0.2},{"x":1.76,"y":3.6,"d":0.35},{"x":1.78,"y":2.95,"d":0.05},{"x":1.79,"y":3.85,"d":0.35},{"x":1.8,"y":4.5,"d":0.05},
{"x":1.82,"y":3.42,"d":0.3},{"x":1.83,"y":3.68,"d":0.4},{"x":1.85,"y":4.0,"d":0.3},{"x":1.86,"y":3.2,"d":0.15},{"x":1.87,"y":3.82,"d":0.45},{"x":1.89,"y":4.25,"d":0.15},{"x":1.9,"y":3.55,"d":0.4},{"x":1.91,"y":3.0,"d":0.08},{"x":1.93,"y":3.95,"d":0.4},{"x":1.94,"y":3.72,"d":0.45},
{"x":1.96,"y":3.35,"d":0.3},{"x":1.97,"y":4.12,"d":0.25},{"x":1.98,"y":3.62,"d":0.5},{"x":2.0,"y":3.85,"d":0.55},{"x":2.01,"y":4.4,"d":0.1},{"x":2.02,"y":3.48,"d":0.45},{"x":2.03,"y":2.85,"d":0.05},{"x":2.05,"y":3.75,"d":0.6},{"x":2.06,"y":4.02,"d":0.45},{"x":2.07,"y":3.15,"d":0.15},{"x":2.08,"y":3.6,"d":0.55},
{"x":2.1,"y":3.92,"d":0.55},{"x":2.11,"y":4.25,"d":0.25},{"x":2.12,"y":3.4,"d":0.4},{"x":2.13,"y":3.7,"d":0.65},{"x":2.15,"y":4.55,"d":0.05},{"x":2.16,"y":3.82,"d":0.7},{"x":2.17,"y":3.0,"d":0.12},{"x":2.18,"y":3.55,"d":0.6},{"x":2.19,"y":4.08,"d":0.5},{"x":2.2,"y":3.25,"d":0.25},{"x":2.21,"y":3.95,"d":0.65},
{"x":2.23,"y":3.65,"d":0.78},{"x":2.24,"y":4.35,"d":0.2},{"x":2.25,"y":3.8,"d":0.8},{"x":2.26,"y":3.45,"d":0.55},{"x":2.28,"y":4.12,"d":0.45},{"x":2.29,"y":3.72,"d":0.85},{"x":2.3,"y":2.8,"d":0.05},{"x":2.31,"y":3.9,"d":0.75},{"x":2.32,"y":3.15,"d":0.25},{"x":2.33,"y":3.6,"d":0.75},{"x":2.35,"y":4.5,"d":0.1},{"x":2.36,"y":4.0,"d":0.6},
{"x":2.38,"y":3.75,"d":0.9},{"x":2.39,"y":3.35,"d":0.45},{"x":2.4,"y":3.85,"d":0.88},{"x":2.41,"y":4.22,"d":0.4},{"x":2.42,"y":3.62,"d":0.85},{"x":2.43,"y":3.0,"d":0.15},{"x":2.45,"y":3.78,"d":0.95},{"x":2.46,"y":4.05,"d":0.6},{"x":2.47,"y":3.5,"d":0.65},{"x":2.48,"y":4.62,"d":0.05},{"x":2.49,"y":3.7,"d":1.0},{"x":2.5,"y":3.9,"d":0.85},
{"x":2.51,"y":3.25,"d":0.3},{"x":2.52,"y":4.35,"d":0.25},{"x":2.53,"y":3.78,"d":1.0},{"x":2.54,"y":3.6,"d":0.9},{"x":2.55,"y":4.1,"d":0.5},{"x":2.56,"y":3.68,"d":0.98},{"x":2.57,"y":2.9,"d":0.1},{"x":2.58,"y":3.85,"d":0.85},{"x":2.59,"y":3.45,"d":0.6},{"x":2.6,"y":4.0,"d":0.7},{"x":2.61,"y":3.72,"d":0.95},
{"x":2.62,"y":4.48,"d":0.1},{"x":2.63,"y":3.35,"d":0.4},{"x":2.64,"y":3.8,"d":0.85},{"x":2.65,"y":4.18,"d":0.45},{"x":2.66,"y":3.6,"d":0.8},{"x":2.67,"y":3.92,"d":0.75},{"x":2.68,"y":3.1,"d":0.2},{"x":2.69,"y":3.7,"d":0.85},{"x":2.7,"y":4.3,"d":0.25},{"x":2.71,"y":3.5,"d":0.55},
{"x":2.73,"y":3.85,"d":0.7},{"x":2.74,"y":4.05,"d":0.5},{"x":2.75,"y":3.65,"d":0.7},{"x":2.76,"y":3.25,"d":0.25},{"x":2.77,"y":4.6,"d":0.05},{"x":2.78,"y":3.78,"d":0.65},{"x":2.79,"y":4.2,"d":0.35},{"x":2.8,"y":3.45,"d":0.4},{"x":2.81,"y":3.95,"d":0.55},{"x":2.82,"y":2.95,"d":0.08},{"x":2.83,"y":3.7,"d":0.55},
{"x":2.85,"y":4.1,"d":0.4},{"x":2.86,"y":3.55,"d":0.4},{"x":2.87,"y":3.88,"d":0.5},{"x":2.88,"y":4.4,"d":0.15},{"x":2.9,"y":3.35,"d":0.2},{"x":2.91,"y":3.75,"d":0.45},{"x":2.92,"y":4.0,"d":0.4},{"x":2.93,"y":3.15,"d":0.1},{"x":2.94,"y":4.25,"d":0.25},{"x":2.95,"y":3.62,"d":0.35},
{"x":2.97,"y":3.9,"d":0.35},{"x":2.98,"y":4.5,"d":0.08},{"x":2.99,"y":3.45,"d":0.2},{"x":3.0,"y":4.1,"d":0.3},{"x":3.01,"y":3.72,"d":0.3},{"x":3.02,"y":3.25,"d":0.1},{"x":3.04,"y":4.3,"d":0.15},{"x":3.05,"y":3.85,"d":0.25},{"x":3.06,"y":3.55,"d":0.2},{"x":3.07,"y":4.0,"d":0.2},
{"x":3.09,"y":4.2,"d":0.15},{"x":3.1,"y":3.7,"d":0.15},{"x":3.11,"y":3.4,"d":0.1},{"x":3.12,"y":3.95,"d":0.15},{"x":3.14,"y":4.45,"d":0.06},{"x":3.15,"y":3.8,"d":0.12},{"x":3.17,"y":4.1,"d":0.1},{"x":3.18,"y":3.6,"d":0.08},{"x":3.2,"y":4.6,"d":0.04},
{"x":3.22,"y":3.9,"d":0.08},{"x":3.24,"y":4.25,"d":0.06},{"x":3.25,"y":3.5,"d":0.04},{"x":3.27,"y":4.05,"d":0.05},{"x":3.28,"y":4.76,"d":0.02},{"x":3.3,"y":3.75,"d":0.04},{"x":3.32,"y":4.4,"d":0.03},{"x":3.34,"y":4.62,"d":0.02},
{"x":3.47,"y":3.86,"d":0.02},{"x":3.76,"y":4.27,"d":0.01},{"x":3.91,"y":4.48,"d":0.01},{"x":3.98,"y":4.54,"d":0.01},{"x":3.8,"y":3.86,"d":0.01},{"x":3.98,"y":3.8,"d":0.01},{"x":3.87,"y":4.06,"d":0.01},{"x":3.57,"y":4.13,"d":0.02},{"x":3.51,"y":3.92,"d":0.02},{"x":3.4,"y":4.2,"d":0.03},
{"x":1.75,"y":4.65,"d":0.02},{"x":2.3,"y":4.75,"d":0.02},{"x":2.85,"y":4.7,"d":0.02},{"x":1.55,"y":4.5,"d":0.03},{"x":2.6,"y":4.85,"d":0.01},
{"x":2.04,"y":1.93,"d":0.01},{"x":1.92,"y":1.64,"d":0.01},{"x":2.54,"y":1.85,"d":0.01},{"x":2.47,"y":1.68,"d":0.01},{"x":2.44,"y":1.52,"d":0.01},{"x":1.55,"y":2.06,"d":0.01},{"x":2.25,"y":2.2,"d":0.01},{"x":2.14,"y":2.55,"d":0.02},{"x":2.84,"y":2.3,"d":0.01},{"x":1.3,"y":2.2,"d":0.01},{"x":1.41,"y":2.55,"d":0.02},{"x":1.38,"y":1.2,"d":0.01},{"x":1.7,"y":2.7,"d":0.03},{"x":2.0,"y":2.6,"d":0.03},{"x":2.6,"y":2.6,"d":0.03},{"x":3.0,"y":2.8,"d":0.03},{"x":1.5,"y":2.85,"d":0.04},{"x":2.35,"y":2.45,"d":0.02},
{"x":1.3,"y":1.04,"d":0.02},{"x":1.36,"y":1.02,"d":0.02},{"x":1.45,"y":1.05,"d":0.02},{"x":1.52,"y":1.03,"d":0.02},{"x":1.6,"y":1.04,"d":0.02},{"x":1.68,"y":1.02,"d":0.02},{"x":1.75,"y":1.06,"d":0.02},{"x":1.83,"y":1.03,"d":0.02},{"x":1.9,"y":1.05,"d":0.02},{"x":1.97,"y":1.02,"d":0.02},{"x":2.05,"y":1.04,"d":0.02},{"x":2.12,"y":1.03,"d":0.02},{"x":2.2,"y":1.05,"d":0.02},{"x":2.28,"y":1.02,"d":0.02},{"x":2.36,"y":1.04,"d":0.02},{"x":2.45,"y":1.03,"d":0.02},{"x":2.55,"y":1.05,"d":0.02},{"x":2.65,"y":1.02,"d":0.02},{"x":2.75,"y":1.04,"d":0.02},{"x":2.9,"y":1.03,"d":0.02},{"x":3.05,"y":1.04,"d":0.02},{"x":3.12,"y":1.02,"d":0.02},
{"x":1.3,"y":3.45,"d":0.12},{"x":1.31,"y":3.85,"d":0.15},{"x":1.33,"y":3.6,"d":0.18},{"x":1.36,"y":4.0,"d":0.1},{"x":1.37,"y":3.35,"d":0.1},
{"x":1.38,"y":3.7,"d":0.2},{"x":1.4,"y":3.95,"d":0.15},{"x":1.44,"y":3.5,"d":0.2},{"x":1.47,"y":3.82,"d":0.25},{"x":1.49,"y":4.15,"d":0.1},{"x":1.51,"y":3.35,"d":0.12},
{"x":1.52,"y":3.55,"d":0.25},{"x":1.54,"y":3.88,"d":0.25},{"x":1.57,"y":4.1,"d":0.15},{"x":1.59,"y":3.3,"d":0.15},{"x":1.62,"y":3.75,"d":0.3},{"x":1.64,"y":3.95,"d":0.25},{"x":1.66,"y":3.45,"d":0.25},
{"x":1.67,"y":4.05,"d":0.2},{"x":1.7,"y":3.65,"d":0.35},{"x":1.71,"y":3.4,"d":0.25},{"x":1.74,"y":3.95,"d":0.3},{"x":1.77,"y":3.78,"d":0.4},{"x":1.78,"y":4.25,"d":0.12},{"x":1.8,"y":3.5,"d":0.3},
{"x":1.81,"y":3.92,"d":0.35},{"x":1.83,"y":3.3,"d":0.2},{"x":1.84,"y":4.1,"d":0.25},{"x":1.86,"y":3.6,"d":0.45},{"x":1.88,"y":3.75,"d":0.5},{"x":1.9,"y":4.05,"d":0.3},{"x":1.92,"y":3.45,"d":0.35},{"x":1.95,"y":3.88,"d":0.5},
{"x":1.96,"y":3.7,"d":0.55},{"x":1.99,"y":4.0,"d":0.4},{"x":2.0,"y":3.55,"d":0.5},{"x":2.02,"y":3.25,"d":0.25},{"x":2.04,"y":3.92,"d":0.55},{"x":2.06,"y":3.65,"d":0.6},{"x":2.08,"y":4.2,"d":0.25},{"x":2.09,"y":3.38,"d":0.35},
{"x":2.1,"y":3.8,"d":0.65},{"x":2.12,"y":3.58,"d":0.6},{"x":2.14,"y":3.95,"d":0.6},{"x":2.15,"y":4.15,"d":0.35},{"x":2.17,"y":3.68,"d":0.7},{"x":2.18,"y":3.35,"d":0.4},{"x":2.2,"y":3.88,"d":0.72},{"x":2.22,"y":3.5,"d":0.6},{"x":2.22,"y":4.05,"d":0.5},
{"x":2.24,"y":3.75,"d":0.8},{"x":2.26,"y":3.58,"d":0.72},{"x":2.27,"y":3.95,"d":0.68},{"x":2.29,"y":3.3,"d":0.4},{"x":2.3,"y":3.82,"d":0.85},{"x":2.32,"y":4.2,"d":0.35},{"x":2.34,"y":3.68,"d":0.85},{"x":2.35,"y":3.48,"d":0.6},{"x":2.37,"y":3.92,"d":0.75},{"x":2.37,"y":4.35,"d":0.15},
{"x":2.39,"y":3.65,"d":0.9},{"x":2.41,"y":3.8,"d":0.92},{"x":2.43,"y":4.0,"d":0.65},{"x":2.44,"y":3.55,"d":0.75},{"x":2.46,"y":3.72,"d":0.98},{"x":2.47,"y":3.85,"d":0.9},{"x":2.48,"y":3.35,"d":0.45},{"x":2.5,"y":3.62,"d":0.92},{"x":2.51,"y":4.15,"d":0.45},{"x":2.52,"y":3.72,"d":1.0},
{"x":2.54,"y":3.88,"d":0.85},{"x":2.55,"y":3.52,"d":0.75},{"x":2.57,"y":3.75,"d":0.97},{"x":2.58,"y":4.25,"d":0.3},{"x":2.59,"y":3.62,"d":0.88},{"x":2.6,"y":3.9,"d":0.8},{"x":2.62,"y":3.4,"d":0.5},{"x":2.63,"y":3.65,"d":0.9},{"x":2.65,"y":3.95,"d":0.7},{"x":2.66,"y":3.78,"d":0.85},
{"x":2.67,"y":3.5,"d":0.6},{"x":2.68,"y":4.05,"d":0.55},{"x":2.7,"y":3.82,"d":0.78},{"x":2.72,"y":3.62,"d":0.72},{"x":2.72,"y":3.35,"d":0.35},{"x":2.74,"y":3.92,"d":0.65},{"x":2.76,"y":3.72,"d":0.68},{"x":2.77,"y":4.35,"d":0.2},{"x":2.79,"y":3.55,"d":0.5},{"x":2.8,"y":3.85,"d":0.6},
{"x":2.82,"y":4.05,"d":0.45},{"x":2.84,"y":3.65,"d":0.55},{"x":2.85,"y":3.35,"d":0.3},{"x":2.86,"y":3.95,"d":0.5},{"x":2.88,"y":3.78,"d":0.5},{"x":2.89,"y":4.2,"d":0.3},{"x":2.9,"y":3.52,"d":0.35},{"x":2.93,"y":3.85,"d":0.4},{"x":2.95,"y":4.05,"d":0.3},
{"x":2.96,"y":3.7,"d":0.35},{"x":2.98,"y":3.3,"d":0.15},{"x":3.0,"y":3.95,"d":0.3},{"x":3.02,"y":4.22,"d":0.2},{"x":3.03,"y":3.6,"d":0.25},{"x":3.05,"y":3.78,"d":0.25},{"x":3.08,"y":3.45,"d":0.15},{"x":3.08,"y":4.1,"d":0.2},
{"x":3.1,"y":3.88,"d":0.15},{"x":3.13,"y":4.3,"d":0.1},{"x":3.14,"y":3.62,"d":0.12},{"x":3.16,"y":3.98,"d":0.12},{"x":3.19,"y":3.75,"d":0.1},{"x":3.21,"y":4.15,"d":0.08},{"x":3.23,"y":3.6,"d":0.06},{"x":3.26,"y":3.85,"d":0.06},{"x":3.29,"y":4.3,"d":0.04},{"x":3.31,"y":4.0,"d":0.05}
]
},
"spacing": 73,
"resolve": {"scale": {"x": "independent", "y": "independent", "fill": "independent", "stroke": "independent", "color": "independent"}, "legend": {"fill": "independent", "stroke": "independent", "color": "independent"}},
"hconcat": [
{
"spacing": 47,
"resolve": {"scale": {"x": "independent", "y": "independent", "fill": "independent", "stroke": "independent", "color": "independent"}, "legend": {"fill": "independent", "stroke": "independent", "color": "independent"}},
"vconcat": [
{
"width": 347, "height": 347,
"view": {"stroke": "#000000", "strokeWidth": 1.5},
"resolve": {"axis": {"x": "independent", "y": "independent"}},
"layer": [
{"data": {"name": "wtO"}, "mark": {"type": "rule", "strokeWidth": 1},
 "encoding": {
  "x": {"datum": 1.0, "type": "quantitative", "scale": {"domain": [1.0, 7.25], "nice": false, "zero": false}, "axis": null},
  "x2": {"datum": 7.25},
  "y": {"field": "i", "type": "quantitative", "scale": {"domain": [0, 11.09], "nice": false, "zero": false}, "axis": null},
  "color": {"field": "s", "type": "nominal", "scale": {"domain": ["Neg-seg1","Neg-seg2","Neg-seg3","Neg-seg4","Neg-seg5","Neg-seg6","Neg-seg7","Neg-seg8","Neg-seg9","Avg positive"], "range": ["#f0b0b0","#a8e0f0","#f0c8a8","#b8f0a8","#a8b8a0","#e0d0d0","#d8b8e8","#a8d8d8","#f0f0a0","#777777"]}, "legend": null}
 }},
{"data": {"name": "wtR"},
 "transform": [{"lookup": "s", "from": {"data": {"name": "wtO"}, "key": "s", "fields": ["i"]}}, {"calculate": "datum.i + datum.d", "as": "top"}],
 "mark": {"type": "area", "fillOpacity": 0.7, "interpolate": "monotone"},
 "encoding": {
  "x": {"field": "x", "type": "quantitative", "scale": {"domain": [1.0, 7.25], "nice": false, "zero": false},
   "axis": {"orient": "bottom", "values": [1.3,2,3,4,5,6,7], "labelExpr": "datum.value < 1.5 ? '0' : datum.value < 2.5 ? '' : '10' + ['⁰','¹','²','³','⁴','⁵','⁶','⁷'][round(datum.value)]", "labelAlign": "left", "labelFontSize": 12, "labelColor": "#222222", "labelPadding": 9, "labelOverlap": false, "labelFlush": false, "tickSize": 7, "tickWidth": 1.5, "tickColor": "#000000", "domain": false, "grid": false, "title": "FL11-A :: mKate2 ECD-A", "titleFontSize": 13, "titleFontWeight": "normal", "titleColor": "#333333", "titlePadding": 22}},
  "y": {"field": "top", "type": "quantitative", "stack": null, "scale": {"domain": [0, 11.09], "nice": false, "zero": false},
   "axis": {"orient": "left", "values": [0.16,1.18,2.2,3.23,4.25,5.27,6.29,7.31,8.34,9.36], "labelExpr": "['seg1','seg2','seg3','seg4','seg5','seg6','seg7','seg8','seg9','ave. +ve'][round(datum.value)]", "labelFontSize": 22, "labelFontStyle": "italic", "labelColor": "#111111", "labelPadding": 9, "labelOverlap": false, "labelFlush": false, "ticks": false, "domain": false, "grid": false, "title": "a", "titleAngle": 0, "titleX": -129, "titleY": -56, "titleAlign": "left", "titleBaseline": "alphabetic", "titleFontSize": 26, "titleFontWeight": "bold", "titleColor": "#000000"}},
  "y2": {"field": "i"},
  "fill": {"field": "s", "type": "nominal", "scale": {"domain": ["Avg positive","Neg-seg9","Neg-seg8","Neg-seg7","Neg-seg6","Neg-seg5","Neg-seg4","Neg-seg3","Neg-seg2","Neg-seg1"], "range": ["#5a5a5a","#f5f530","#4aa8a8","#a840d8","#dcbcbc","#6a8455","#78ec55","#f5a860","#55d5f5","#f07070"]},
   "legend": {"title": "SampleID", "orient": "none", "legendX": 235, "legendY": 2, "symbolType": "square", "symbolSize": 150, "symbolStrokeColor": "#333333", "symbolStrokeWidth": 1.5, "symbolOpacity": 0.85, "labelFontSize": 12, "labelColor": "#111111", "labelOffset": 9, "titleFontSize": 12, "titleFontWeight": "normal", "titleColor": "#222222", "titleAnchor": "middle", "titlePadding": 6, "rowPadding": 0.5, "padding": 5, "fillColor": "#ffffff", "strokeColor": "#000000", "labelLimit": 200, "encode": {"labels": {"update": {"fontWeight": {"signal": "datum.label === 'Avg positive' ? 'bold' : 'normal'"}}}}}}
 }},
{"data": {"name": "wtR"},
 "transform": [{"lookup": "s", "from": {"data": {"name": "wtO"}, "key": "s", "fields": ["i"]}}, {"calculate": "datum.i + datum.d", "as": "top"}],
 "mark": {"type": "line", "strokeWidth": 1.2, "interpolate": "monotone"},
 "encoding": {
  "x": {"field": "x", "type": "quantitative", "scale": {"domain": [1.0, 7.25], "nice": false, "zero": false},
   "axis": {"orient": "bottom", "values": [1.06,1.1,1.14,1.18,1.22,1.26,1.45,1.6,1.72,1.82,1.9,2.301,2.477,2.602,2.699,2.778,2.845,2.903,2.954,3.301,3.477,3.602,3.699,3.778,3.845,3.903,3.954,4.301,4.477,4.602,4.699,4.778,4.845,4.903,4.954,5.301,5.477,5.602,5.699,5.778,5.845,5.903,5.954,6.301,6.477,6.602,6.699,6.778,6.845,6.903,6.954], "labels": false, "tickSize": 4, "tickWidth": 1.2, "tickColor": "#000000", "domain": false, "grid": false, "title": null}},
  "y": {"field": "top", "type": "quantitative", "scale": {"domain": [0, 11.09], "nice": false, "zero": false}, "axis": null},
  "stroke": {"field": "s", "type": "nominal", "scale": {"domain": ["Neg-seg1","Neg-seg2","Neg-seg3","Neg-seg4","Neg-seg5","Neg-seg6","Neg-seg7","Neg-seg8","Neg-seg9","Avg positive"], "range": ["#c83a3a","#30a8c8","#d89050","#4ac030","#3a5a2a","#b0a0a0","#7a2a9a","#2a7a7a","#d8d820","#2a2a2a"]}, "legend": null}
 }},
{"data": {"values": [{}]}, "mark": {"type": "rule", "color": "#f08080", "strokeWidth": 1, "opacity": 0.8},
 "encoding": {
  "x": {"datum": 3.02, "type": "quantitative", "scale": {"domain": [1.0, 7.25], "nice": false, "zero": false},
   "axis": {"orient": "top", "labels": false, "ticks": false, "domain": false, "grid": false, "title": "Wild-type mice", "titleX": 160, "titleY": -21, "titleAlign": "center", "titleBaseline": "alphabetic", "titleFontSize": 26, "titleFontWeight": "bold", "titleColor": "#000000"}}
 }}
]
},
{
"width": 300, "height": 301,
"view": {"stroke": "#aaaaaa", "strokeWidth": 1.5},
"resolve": {"axis": {"x": "independent", "y": "independent"}},
"layer": [
{"data": {"name": "wtP"}, "mark": {"type": "point", "shape": "square", "filled": true, "size": 16, "opacity": 1},
 "encoding": {
  "x": {"field": "x", "type": "quantitative", "scale": {"domain": [1.26, 5.68], "nice": false, "zero": false},
   "axis": {"orient": "bottom", "values": [2.04,3,4,5], "labelExpr": "datum.value < 2.5 ? '0' : '10' + ['⁰','¹','²','³','⁴','⁵','⁶','⁷'][round(datum.value)]", "labelAlign": "left", "labelFontSize": 11, "labelColor": "#222222", "labelPadding": 8, "labelOverlap": false, "labelFlush": false, "tickSize": 6, "tickWidth": 1.5, "tickColor": "#222222", "domain": false, "grid": false, "title": "FL5-A :: APC-A750-A", "titleFontSize": 12, "titleFontWeight": "normal", "titleColor": "#333333", "titlePadding": 18}},
  "y": {"field": "y", "type": "quantitative", "scale": {"domain": [1.0, 7.23], "nice": false, "zero": false},
   "axis": {"orient": "left", "values": [1.27,2,3,4,5,6,7], "labelExpr": "datum.value < 1.5 ? '0' : '10' + ['⁰','¹','²','³','⁴','⁵','⁶','⁷'][round(datum.value)]", "labelFontSize": 11, "labelColor": "#222222", "labelPadding": 2, "labelOverlap": false, "labelFlush": false, "tickSize": 6, "tickWidth": 1.5, "tickColor": "#222222", "domain": false, "grid": false, "title": "FL11-A :: mKate2 ECD-A", "titleFontSize": 12, "titleFontWeight": "normal", "titleColor": "#333333", "titleAngle": 270, "titleX": -63, "titleY": 146, "titleAlign": "center", "titleBaseline": "middle"}},
  "color": {"field": "d", "type": "quantitative", "scale": {"type": "linear", "domain": [0, 0.35, 0.5, 0.68, 0.85, 1], "range": ["#1414c8","#1e50f0","#10c8d0","#50e030","#f0d010","#f01010"]}, "legend": null},
  "order": {"field": "d", "type": "quantitative"}
 }},
{"data": {"name": "wtG"}, "mark": {"type": "line", "color": "#000000", "strokeWidth": 1.6},
 "encoding": {
  "x": {"field": "x", "type": "quantitative", "scale": {"domain": [1.26, 5.68], "nice": false, "zero": false},
   "axis": {"orient": "bottom", "values": [1.3,1.42,1.55,1.66,1.76,1.84,1.9,1.95,1.99,2.1,2.3,2.48,2.6,2.7,2.78,2.85,2.9,2.95,3.301,3.477,3.602,3.699,3.778,3.845,3.903,3.954,4.301,4.477,4.602,4.699,4.778,4.845,4.903,4.954,5.301,5.477,5.602], "labels": false, "tickSize": 3, "tickColor": "#222222", "domain": false, "grid": false, "title": null}},
  "y": {"field": "y", "type": "quantitative", "scale": {"domain": [1.0, 7.23], "nice": false, "zero": false},
   "axis": {"orient": "left", "values": [1.04,1.08,1.12,1.16,1.2,1.35,1.5,1.62,1.72,1.8,1.87,1.93,2.301,2.477,2.602,2.699,2.778,2.845,2.903,2.954,3.301,3.477,3.602,3.699,3.778,3.845,3.903,3.954,4.301,4.477,4.602,4.699,4.778,4.845,4.903,4.954,5.301,5.477,5.602,5.699,5.778,5.845,5.903,5.954,6.301,6.477,6.602,6.699,6.778,6.845,6.903,6.954], "labels": false, "tickSize": 3, "tickColor": "#222222", "domain": false, "grid": false, "title": "b", "titleAngle": 0, "titleX": -131, "titleY": -24, "titleAlign": "left", "titleBaseline": "alphabetic", "titleFontSize": 26, "titleFontWeight": "bold", "titleColor": "#000000"}},
  "order": {"field": "o", "type": "quantitative"}
 }},
{"data": {"values": [{}]}, "mark": {"type": "text", "fontSize": 12, "color": "#222222"},
 "encoding": {
  "x": {"datum": 2.34, "type": "quantitative", "scale": {"domain": [1.26, 5.68], "nice": false, "zero": false},
   "axis": {"orient": "top", "labels": false, "ticks": false, "domain": false, "grid": false, "title": "Wild-type mice", "titleX": 146, "titleY": -12, "titleAlign": "center", "titleBaseline": "alphabetic", "titleFontSize": 26, "titleFontWeight": "bold", "titleColor": "#000000"}},
  "y": {"datum": 5.33, "type": "quantitative", "scale": {"domain": [1.0, 7.23], "nice": false, "zero": false},
   "axis": {"orient": "right", "labels": false, "ticks": false, "domain": false, "grid": false, "title": "FL11-A :: mKate2 ECD-A", "titleAngle": 270, "titleX": -9, "titleY": 146, "titleAlign": "center", "titleBaseline": "middle", "titleFontSize": 12, "titleFontWeight": "normal", "titleColor": "#333333"}},
  "text": {"value": "mKate2+"}
 }},
{"data": {"values": [{}]}, "mark": {"type": "text", "fontSize": 12, "color": "#222222"},
 "encoding": {
  "x": {"datum": 2.34, "type": "quantitative", "scale": {"domain": [1.26, 5.68], "nice": false, "zero": false}, "axis": null},
  "y": {"datum": 4.97, "type": "quantitative", "scale": {"domain": [1.0, 7.23], "nice": false, "zero": false}, "axis": null},
  "text": {"value": "1.63"}
 }}
]
}
]
},
{
"spacing": 47,
"resolve": {"scale": {"x": "independent", "y": "independent", "fill": "independent", "stroke": "independent", "color": "independent"}, "legend": {"fill": "independent", "stroke": "independent", "color": "independent"}},
"vconcat": [
{
"width": 347, "height": 347,
"view": {"stroke": "#000000", "strokeWidth": 1.5},
"resolve": {"axis": {"x": "independent", "y": "independent"}},
"layer": [
{"data": {"name": "vO"}, "mark": {"type": "rule", "strokeWidth": 1},
 "encoding": {
  "x": {"datum": 1.0, "type": "quantitative", "scale": {"domain": [1.0, 7.25], "nice": false, "zero": false},
   "axis": {"orient": "top", "labels": false, "ticks": false, "domain": false, "grid": false, "title": "Villin-mKate2", "titleX": 56, "titleY": -22, "titleAlign": "left", "titleBaseline": "alphabetic", "titleFontSize": 26, "titleFontWeight": "bold", "titleFontStyle": "italic", "titleColor": "#000000"}},
  "x2": {"datum": 7.25},
  "y": {"field": "i", "type": "quantitative", "scale": {"domain": [0, 11.09], "nice": false, "zero": false}, "axis": null},
  "color": {"field": "s", "type": "nominal", "scale": {"domain": ["Average Negative","mKate2-seg1","mKate2-Seg2","mKate2-seg3","mKate2-seg4","mKate2-seg5","mKate2-seg6","mKate2-seg7","mKate2-seg8","mKate2-seg9"], "range": ["#f0b0b0","#a8e0f0","#f0c8a8","#b8f0a8","#a8b8a0","#e0d0d0","#d8b8e8","#a8d8d8","#f0f0a0","#777777"]}, "legend": null}
 }},
{"data": {"name": "vR"},
 "transform": [{"lookup": "s", "from": {"data": {"name": "vO"}, "key": "s", "fields": ["i"]}}, {"calculate": "datum.i + datum.d", "as": "top"}],
 "mark": {"type": "area", "fillOpacity": 0.7, "interpolate": "monotone"},
 "encoding": {
  "x": {"field": "x", "type": "quantitative", "scale": {"domain": [1.0, 7.25], "nice": false, "zero": false},
   "axis": {"orient": "bottom", "values": [1.3,2,3,4,5,6,7], "labelExpr": "datum.value < 1.5 ? '0' : datum.value < 2.5 ? '' : '10' + ['⁰','¹','²','³','⁴','⁵','⁶','⁷'][round(datum.value)]", "labelAlign": "left", "labelFontSize": 12, "labelColor": "#222222", "labelPadding": 9, "labelOverlap": false, "labelFlush": false, "tickSize": 7, "tickWidth": 1.5, "tickColor": "#000000", "domain": false, "grid": false, "title": "FL11-A :: mKate2 ECD-A", "titleFontSize": 13, "titleFontWeight": "normal", "titleColor": "#333333", "titlePadding": 22}},
  "y": {"field": "top", "type": "quantitative", "stack": null, "scale": {"domain": [0, 11.09], "nice": false, "zero": false},
   "axis": {"orient": "left", "values": [0.16,1.18,2.2,3.23,4.25,5.27,6.29,7.31,8.34,9.36], "labelExpr": "['wild-type','seg1','seg2','seg3','seg4','seg5','seg6','seg7','seg8','seg9'][round(datum.value)]", "labelFontSize": 22, "labelFontStyle": "italic", "labelColor": "#111111", "labelPadding": 9, "labelOverlap": false, "labelFlush": false, "ticks": false, "domain": false, "grid": false, "title": "a", "titleOpacity": 0, "titleAngle": 0, "titleX": 5, "titleY": -56, "titleAlign": "left", "titleBaseline": "alphabetic", "titleFontSize": 26, "titleFontWeight": "bold"}},
  "y2": {"field": "i"},
  "fill": {"field": "s", "type": "nominal", "scale": {"domain": ["mKate2-seg9","mKate2-seg8","mKate2-seg7","mKate2-seg6","mKate2-seg5","mKate2-seg4","mKate2-seg3","mKate2-Seg2","mKate2-seg1","Average Negative"], "range": ["#5a5a5a","#f5f530","#4aa8a8","#a840d8","#dcbcbc","#6a8455","#78ec55","#f5a860","#55d5f5","#f07070"]},
   "legend": {"title": "SampleID", "orient": "none", "legendX": 219, "legendY": 2, "symbolType": "square", "symbolSize": 150, "symbolStrokeColor": "#333333", "symbolStrokeWidth": 1.5, "symbolOpacity": 0.85, "labelFontSize": 12.5, "labelColor": "#111111", "labelOffset": 9, "titleFontSize": 12, "titleFontWeight": "normal", "titleColor": "#222222", "titleAnchor": "middle", "titlePadding": 6, "rowPadding": 0.5, "padding": 5, "fillColor": "#ffffff", "strokeColor": "#000000", "labelLimit": 200}}
 }},
{"data": {"name": "vR"},
 "transform": [{"lookup": "s", "from": {"data": {"name": "vO"}, "key": "s", "fields": ["i"]}}, {"calculate": "datum.i + datum.d", "as": "top"}],
 "mark": {"type": "line", "strokeWidth": 1.2, "interpolate": "monotone"},
 "encoding": {
  "x": {"field": "x", "type": "quantitative", "scale": {"domain": [1.0, 7.25], "nice": false, "zero": false},
   "axis": {"orient": "bottom", "values": [1.06,1.1,1.14,1.18,1.22,1.26,1.45,1.6,1.72,1.82,1.9,2.301,2.477,2.602,2.699,2.778,2.845,2.903,2.954,3.301,3.477,3.602,3.699,3.778,3.845,3.903,3.954,4.301,4.477,4.602,4.699,4.778,4.845,4.903,4.954,5.301,5.477,5.602,5.699,5.778,5.845,5.903,5.954,6.301,6.477,6.602,6.699,6.778,6.845,6.903,6.954], "labels": false, "tickSize": 4, "tickWidth": 1.2, "tickColor": "#000000", "domain": false, "grid": false, "title": null}},
  "y": {"field": "top", "type": "quantitative", "scale": {"domain": [0, 11.09], "nice": false, "zero": false}, "axis": null},
  "stroke": {"field": "s", "type": "nominal", "scale": {"domain": ["Average Negative","mKate2-seg1","mKate2-Seg2","mKate2-seg3","mKate2-seg4","mKate2-seg5","mKate2-seg6","mKate2-seg7","mKate2-seg8","mKate2-seg9"], "range": ["#c83a3a","#30a8c8","#d89050","#4ac030","#3a5a2a","#b0a0a0","#7a2a9a","#2a7a7a","#d8d820","#2a2a2a"]}, "legend": null}
 }},
{"data": {"values": [{}]}, "mark": {"type": "rule", "color": "#f08080", "strokeWidth": 1, "opacity": 0.8},
 "encoding": {
  "x": {"datum": 2.95, "type": "quantitative", "scale": {"domain": [1.0, 7.25], "nice": false, "zero": false},
   "axis": {"orient": "top", "labels": false, "ticks": false, "domain": false, "grid": false, "title": "mice", "titleX": 228, "titleY": -22, "titleAlign": "left", "titleBaseline": "alphabetic", "titleFontSize": 26, "titleFontWeight": "bold", "titleColor": "#000000"}}
 }}
]
},
{
"width": 300, "height": 301,
"view": {"stroke": "#aaaaaa", "strokeWidth": 1.5},
"resolve": {"axis": {"x": "independent", "y": "independent"}},
"layer": [
{"data": {"name": "vP"}, "mark": {"type": "point", "shape": "square", "filled": true, "size": 16, "opacity": 1},
 "encoding": {
  "x": {"field": "x", "type": "quantitative", "scale": {"domain": [1.26, 5.68], "nice": false, "zero": false},
   "axis": {"orient": "bottom", "values": [2.04,3,4,5], "labelExpr": "datum.value < 2.5 ? '0' : '10' + ['⁰','¹','²','³','⁴','⁵','⁶','⁷'][round(datum.value)]", "labelAlign": "left", "labelFontSize": 11, "labelColor": "#222222", "labelPadding": 8, "labelOverlap": false, "labelFlush": false, "tickSize": 6, "tickWidth": 1.5, "tickColor": "#222222", "domain": false, "grid": false, "title": "FL5-A :: APC-A750-A", "titleFontSize": 12, "titleFontWeight": "normal", "titleColor": "#333333", "titlePadding": 18}},
  "y": {"field": "y", "type": "quantitative", "scale": {"domain": [1.0, 7.23], "nice": false, "zero": false},
   "axis": {"orient": "left", "values": [1.27,2,3,4,5,6,7], "labelExpr": "datum.value < 1.5 ? '0' : '10' + ['⁰','¹','²','³','⁴','⁵','⁶','⁷'][round(datum.value)]", "labelFontSize": 11, "labelColor": "#222222", "labelPadding": 2, "labelOverlap": false, "labelFlush": false, "tickSize": 6, "tickWidth": 1.5, "tickColor": "#222222", "domain": false, "grid": false, "title": "FL11-A :: mKate2 ECD-A", "titleFontSize": 12, "titleFontWeight": "normal", "titleColor": "#333333", "titleAngle": 270, "titleX": -63, "titleY": 146, "titleAlign": "center", "titleBaseline": "middle"}},
  "color": {"field": "d", "type": "quantitative", "scale": {"type": "linear", "domain": [0, 0.35, 0.5, 0.68, 0.85, 1], "range": ["#1414c8","#1e50f0","#10c8d0","#50e030","#f0d010","#f01010"]}, "legend": null},
  "order": {"field": "d", "type": "quantitative"}
 }},
{"data": {"name": "vG"}, "mark": {"type": "line", "color": "#000000", "strokeWidth": 1.6},
 "encoding": {
  "x": {"field": "x", "type": "quantitative", "scale": {"domain": [1.26, 5.68], "nice": false, "zero": false},
   "axis": {"orient": "bottom", "values": [1.3,1.42,1.55,1.66,1.76,1.84,1.9,1.95,1.99,2.1,2.3,2.48,2.6,2.7,2.78,2.85,2.9,2.95,3.301,3.477,3.602,3.699,3.778,3.845,3.903,3.954,4.301,4.477,4.602,4.699,4.778,4.845,4.903,4.954,5.301,5.477,5.602], "labels": false, "tickSize": 3, "tickColor": "#222222", "domain": false, "grid": false, "title": null}},
  "y": {"field": "y", "type": "quantitative", "scale": {"domain": [1.0, 7.23], "nice": false, "zero": false},
   "axis": {"orient": "left", "values": [1.04,1.08,1.12,1.16,1.2,1.35,1.5,1.62,1.72,1.8,1.87,1.93,2.301,2.477,2.602,2.699,2.778,2.845,2.903,2.954,3.301,3.477,3.602,3.699,3.778,3.845,3.903,3.954,4.301,4.477,4.602,4.699,4.778,4.845,4.903,4.954,5.301,5.477,5.602,5.699,5.778,5.845,5.903,5.954,6.301,6.477,6.602,6.699,6.778,6.845,6.903,6.954], "labels": false, "tickSize": 3, "tickColor": "#222222", "domain": false, "grid": false, "title": "b", "titleOpacity": 0, "titleAngle": 0, "titleX": 5, "titleY": -24, "titleAlign": "left", "titleBaseline": "alphabetic", "titleFontSize": 26, "titleFontWeight": "bold"}},
  "order": {"field": "o", "type": "quantitative"}
 }},
{"data": {"values": [{}]}, "mark": {"type": "text", "fontSize": 12, "color": "#222222"},
 "encoding": {
  "x": {"datum": 2.34, "type": "quantitative", "scale": {"domain": [1.26, 5.68], "nice": false, "zero": false},
   "axis": {"orient": "top", "labels": false, "ticks": false, "domain": false, "grid": false, "title": "Villin-mKate2", "titleX": 47, "titleY": -15, "titleAlign": "left", "titleBaseline": "alphabetic", "titleFontSize": 26, "titleFontWeight": "bold", "titleFontStyle": "italic", "titleColor": "#000000"}},
  "y": {"datum": 5.31, "type": "quantitative", "scale": {"domain": [1.0, 7.23], "nice": false, "zero": false},
   "axis": {"orient": "right", "labels": false, "ticks": false, "domain": false, "grid": false, "title": "FL11-A :: mKate2 ECD-A", "titleAngle": 270, "titleX": -9, "titleY": 146, "titleAlign": "center", "titleBaseline": "middle", "titleFontSize": 12, "titleFontWeight": "normal", "titleColor": "#333333"}},
  "text": {"value": "mKate2+"}
 }},
{"data": {"values": [{}]}, "mark": {"type": "text", "fontSize": 12, "color": "#222222"},
 "encoding": {
  "x": {"datum": 2.32, "type": "quantitative", "scale": {"domain": [1.26, 5.68], "nice": false, "zero": false},
   "axis": {"orient": "top", "labels": false, "ticks": false, "domain": false, "grid": false, "title": "mice", "titleX": 219, "titleY": -15, "titleAlign": "left", "titleBaseline": "alphabetic", "titleFontSize": 26, "titleFontWeight": "bold", "titleColor": "#000000"}},
  "y": {"datum": 4.97, "type": "quantitative", "scale": {"domain": [1.0, 7.23], "nice": false, "zero": false}, "axis": null},
  "text": {"value": "92.5"}
 }}
]
}
]
}
]
}
